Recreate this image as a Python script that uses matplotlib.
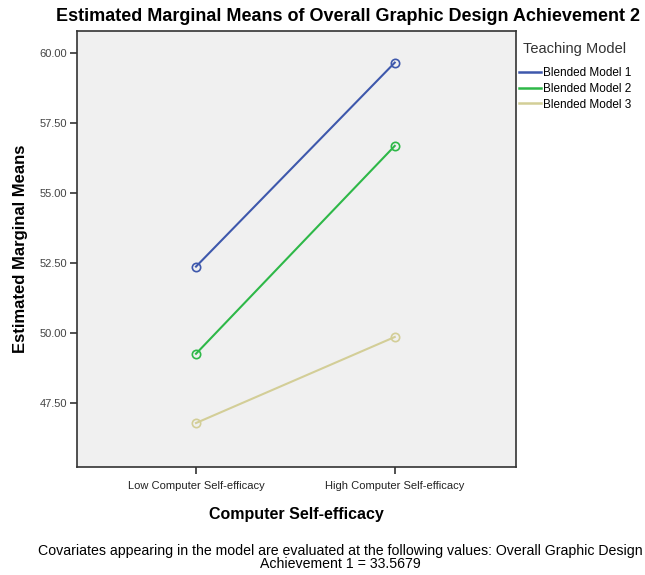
import matplotlib.pyplot as plt
from matplotlib.lines import Line2D

plt.rcParams['font.family'] = ['Liberation Sans', 'DejaVu Sans']

# data
levels = ['Low Computer Self-efficacy', 'High Computer Self-efficacy']
models = ['Blended Model 1', 'Blended Model 2', 'Blended Model 3']
means = {
    'Blended Model 1': [52.37, 59.67],
    'Blended Model 2': [49.25, 56.69],
    'Blended Model 3': [46.77, 49.85],
}
colors = ['#3E58AC', '#2EB848', '#D3CE97']
yticks = [47.5, 50.0, 52.5, 55.0, 57.5, 60.0]

fig = plt.figure(figsize=(6.45, 5.75), dpi=100)
ax = fig.add_axes([0.119, 0.188, 0.681, 0.758])
ax.set_facecolor('#F0F0F0')

x = list(range(len(levels)))
for m, c in zip(models, colors):
    ax.plot(x, means[m], color=c, lw=1.5, marker='o', ms=6,
            mfc='none', mec=c, mew=1.2)

ax.set_xlim(-0.6, 1.61)
ax.set_ylim(45.2, 60.8)
ax.set_xticks(x)
ax.set_xticklabels(levels, fontsize=8, color='#222222')
ax.set_yticks(yticks)
ax.set_yticklabels([f'{v:.2f}' for v in yticks], fontsize=8, color='#444444')
ax.tick_params(direction='out', length=5, width=1.2, color='#333333', pad=2)
ax.tick_params(axis='x', pad=5)
for s in ax.spines.values():
    s.set_color('#333333')
    s.set_linewidth(1.2)

ax.set_xlabel('Computer Self-efficacy', fontsize=11.5, fontweight='bold', labelpad=12)
ax.set_ylabel('Estimated Marginal Means', fontsize=12, fontweight='bold', labelpad=8)
fig.text(0.54, 0.972, 'Estimated Marginal Means of Overall Graphic Design Achievement 2',
         ha='center', va='center', fontsize=13, fontweight='bold')

handles = [Line2D([], [], color=c, lw=1.8) for c in colors]
leg = ax.legend(handles, models, loc='upper left', bbox_to_anchor=(0.995, 0.985),
                frameon=False, title='Teaching Model', fontsize=8.5,
                title_fontsize=10.5, handlelength=1.9, handletextpad=0.15,
                labelspacing=0.3, borderaxespad=0.0)
leg._legend_box.align = 'center'
leg.get_title().set_color('#333333')
leg._legend_box.sep = 8

fig.text(0.527, 0.03,
         'Covariates appearing in the model are evaluated at the following values: Overall Graphic Design\nAchievement 1 = 33.5679',
         ha='center', va='center', fontsize=10.2, linespacing=0.95)

fig.savefig('out.png', dpi=100)
